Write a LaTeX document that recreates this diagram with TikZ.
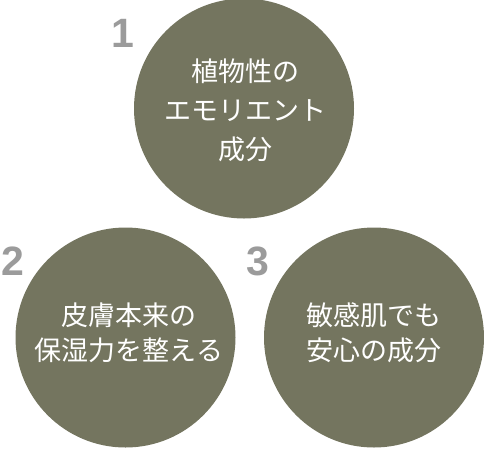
\documentclass[tikz,border=0pt]{standalone}
\usepackage{fontspec}
\newfontfamily\jpfont{Noto Sans CJK JP}
\newfontfamily\numfont{Liberation Sans}
\definecolor{olive}{RGB}{116,117,95}
\definecolor{numgray}{RGB}{155,155,155}
\begin{document}
\begin{tikzpicture}[x=1pt,y=-1pt,
  disc/.style={circle,fill=olive,draw=none,minimum size=220pt,inner sep=0pt},
  txt/.style={text=white,align=center,inner sep=0pt},
  num/.style={text=numgray,font=\numfont\bfseries\fontsize{41}{41}\selectfont,inner sep=0pt,anchor=base}]
\useasboundingbox (0,0) rectangle (484,448);
\node[disc] (c1) at (244,108.5) {};
\node[disc] (c2) at (125.5,337.5) {};
\node[disc] (c3) at (374,337.5) {};
\node[txt,font=\jpfont\fontsize{27}{39}\selectfont] (t1) at (245,110) {植物性の\\エモリエント\\成分};
\node[txt,font=\jpfont\fontsize{27}{35}\selectfont] (t2) at (129,333) {皮膚本来の\\保湿力を整える};
\node[txt,font=\jpfont\fontsize{27}{35}\selectfont] (t3) at (374,333) {敏感肌でも\\安心の成分};
\node[num] (n1) at (123,47) {1};
\node[num] (n2) at (12.5,275) {2};
\node[num] (n3) at (257.5,275) {3};
\end{tikzpicture}
\end{document}
